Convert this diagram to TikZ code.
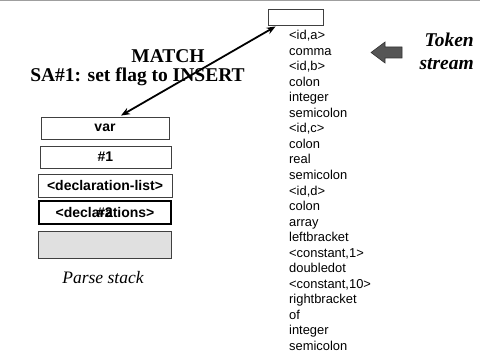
\documentclass[tikz,border=0pt]{standalone}
\usepackage{fontspec}
\setmainfont{Liberation Serif}
\newfontfamily\arialf{Liberation Sans}
\usetikzlibrary{calc,arrows.meta}
\definecolor{boxline}{HTML}{404040}
\definecolor{stackgray}{HTML}{E0E0E0}
\definecolor{arrowfill}{HTML}{555555}
\tikzset{
  stackbox/.style={draw=boxline, line width=0.9pt, minimum height=22pt, inner sep=0pt,
    font=\arialf\bfseries\fontsize{14}{16}\selectfont},
  tok/.style={anchor=base west, inner sep=0pt, font=\arialf\fontsize{12.9}{14}\selectfont},
  bigserif/.style={font=\bfseries\fontsize{19.5}{21}\selectfont, inner sep=0pt, anchor=base},
  tokstream/.style={font=\bfseries\itshape\fontsize{19.5}{21}\selectfont, inner sep=0pt, anchor=base east},
}
\begin{document}
\begin{tikzpicture}[x=1pt,y=-1pt]
\useasboundingbox (0,0) rectangle (480,353);
% top rule
\draw[color=gray!75, line width=1.5pt] (0,0.6) -- (480,0.6);
% token pointer box
\node[draw=boxline, line width=0.9pt, minimum width=55pt, minimum height=16pt, inner sep=0pt] (tokbox) at (295.5,17) {};
% parse stack
\node[stackbox, minimum width=128pt] (var) at (105,128) {var};
\node[stackbox, minimum width=131pt] (one) at (105.5,157) {\#1};
\node[stackbox, minimum width=134pt, minimum height=23pt] (dlist) at (105,185.5) {<declaration-list>};
\node[stackbox, draw=black, line width=1.4pt, minimum width=132pt, minimum height=23pt] (decls) at (105,212.5) {<declarations>};
\node[font=\arialf\bfseries\fontsize{14}{16}\selectfont, inner sep=0pt] (two) at (105,212.5) {\#2};
\node[stackbox, fill=stackgray, minimum width=133pt, minimum height=27pt] (empty) at (104.5,244.5) {};
\node[font=\itshape\fontsize{17.5}{20}\selectfont, inner sep=0pt, anchor=base] (pslabel) at (103,283) {Parse stack};
% match label
\node[bigserif] (match) at (168,62.7) {MATCH};
\node[bigserif] (sa) at (137.5,81.7) {SA\#1: set flag to INSERT};
% double arrow
\draw[{Stealth[length=9pt,width=7pt]}-{Stealth[length=9pt,width=7pt]}, line width=1.8pt]
  ($(tokbox.south west)+(8,1)$) -- ($(var.north)+(16,-1)$);
% token list
\foreach \t [count=\i from 0] in {<id{,}a>,comma,<id{,}b>,colon,integer,semicolon,<id{,}c>,colon,real,semicolon,<id{,}d>,colon,array,leftbracket,<constant{,}1>,doubledot,<constant{,}10>,rightbracket,of,integer,semicolon}
  \node[tok] (t\i) at (289,{40+15.5*\i}) {\t};
% fat arrow
\draw[fill=arrowfill, draw=black!80, line width=0.6pt]
  (371,52.5) -- (385,42) -- (385,47) -- (402,47) -- (402,58) -- (385,58) -- (385,63) -- cycle;
\node[tokstream] (token) at (474,46.7) {Token};
\node[tokstream] (stream) at (474,70) {stream};
\end{tikzpicture}
\end{document}
